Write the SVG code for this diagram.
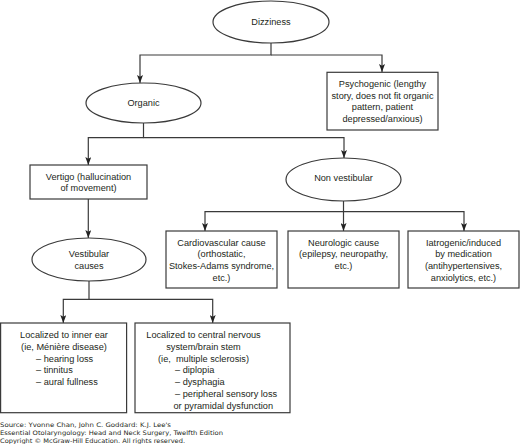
<svg xmlns="http://www.w3.org/2000/svg" width="520" height="444" viewBox="0 0 520 444">
<style>
.t{font-family:"Liberation Sans",Arial,sans-serif;font-size:9.2px;fill:#231f20;text-anchor:middle}
.l{text-anchor:start}
.s{font-family:"DejaVu Sans",Verdana,sans-serif;font-size:6.2px;fill:#231f20}
.n{fill:#fff;stroke:#3a3a3a;stroke-width:1.2}
.c{fill:none;stroke:#3a3a3a;stroke-width:1.2}
</style>
<defs>
<marker id="arr" viewBox="0 0 8 6" refX="8" refY="3" markerWidth="8" markerHeight="6" orient="auto" markerUnits="userSpaceOnUse">
<path d="M0,0 L8,3 L0,6 L1.8,3 z" fill="#222"/>
</marker>
</defs>
<rect width="520" height="444" fill="#fff"/>
<g id="connectors">
<path class="c" d="M271,43 V55 H140 V83" marker-end="url(#arr)"/>
<path class="c" d="M271,55 H382 V72" marker-end="url(#arr)"/>
<path class="c" d="M143.5,123 V137.7 H88.3 V165" marker-end="url(#arr)"/>
<path class="c" d="M143.5,137.7 H344 V158" marker-end="url(#arr)"/>
<path class="c" d="M88.3,199 V238" marker-end="url(#arr)"/>
<path class="c" d="M343.5,201 V211.7 H205 V231" marker-end="url(#arr)"/>
<path class="c" d="M343.5,211.7 V231" marker-end="url(#arr)"/>
<path class="c" d="M343.5,211.7 H464 V231" marker-end="url(#arr)"/>
<path class="c" d="M89,281 V299.3 H63.3 V323" marker-end="url(#arr)"/>
<path class="c" d="M89,299.3 H212.7 V323" marker-end="url(#arr)"/>
</g>
<g id="dizziness">
<ellipse class="n" cx="271" cy="22" rx="58" ry="21"/>
<text class="t" x="271" y="25.3">Dizziness</text>
</g>
<g id="organic">
<ellipse class="n" cx="143.5" cy="103" rx="57.5" ry="20"/>
<text class="t" x="143.5" y="105.6">Organic</text>
</g>
<g id="psychogenic">
<rect class="n" x="327" y="72.3" width="111" height="57.7"/>
<text class="t" x="382.5" y="86.8">Psychogenic (lengthy</text>
<text class="t" x="382.5" y="98.5">story, does not fit organic</text>
<text class="t" x="382.5" y="110.2">pattern, patient</text>
<text class="t" x="382.5" y="121.9">depressed/anxious)</text>
</g>
<g id="vertigo">
<rect class="n" x="30" y="165" width="117" height="34"/>
<text class="t" x="88.5" y="179.5">Vertigo (hallucination</text>
<text class="t" x="88.5" y="191.2">of movement)</text>
</g>
<g id="nonvestibular">
<ellipse class="n" cx="343.5" cy="179.5" rx="57.5" ry="21.5"/>
<text class="t" x="343.5" y="181">Non vestibular</text>
</g>
<g id="vestibular">
<ellipse class="n" cx="89" cy="259.5" rx="57" ry="21.5"/>
<text class="t" x="89" y="257.3">Vestibular</text>
<text class="t" x="89" y="269">causes</text>
</g>
<g id="cardiovascular">
<rect class="n" x="166" y="231" width="111" height="57"/>
<text class="t" x="221.5" y="245.6">Cardiovascular cause</text>
<text class="t" x="221.5" y="257.3">(orthostatic,</text>
<text class="t" x="221.5" y="268.9">Stokes-Adams syndrome,</text>
<text class="t" x="221.5" y="280.6">etc.)</text>
</g>
<g id="neurologic">
<rect class="n" x="288" y="231" width="111" height="57"/>
<text class="t" x="343.5" y="245.6">Neurologic cause</text>
<text class="t" x="343.5" y="257.3">(epilepsy, neuropathy,</text>
<text class="t" x="343.5" y="268.9">etc.)</text>
</g>
<g id="iatrogenic">
<rect class="n" x="408" y="231" width="111" height="57"/>
<text class="t" x="463.5" y="245.6">Iatrogenic/induced</text>
<text class="t" x="463.5" y="257.3">by medication</text>
<text class="t" x="463.5" y="268.9">(antihypertensives,</text>
<text class="t" x="463.5" y="280.6">anxiolytics, etc.)</text>
</g>
<g id="innerear">
<rect class="n" x="0.6" y="323" width="126" height="89.7"/>
<text class="t" x="64" y="338.3">Localized to inner ear</text>
<text class="t" x="64" y="350">(ie, Ménière disease)</text>
<text class="t l" x="36" y="361.7">– hearing loss</text>
<text class="t l" x="36" y="373.4">– tinnitus</text>
<text class="t l" x="36" y="385.1">– aural fullness</text>
</g>
<g id="cns">
<rect class="n" x="135" y="323" width="155" height="89.7"/>
<text class="t" x="203.5" y="338.3">Localized to central nervous</text>
<text class="t" x="203.5" y="350">system/brain stem</text>
<text class="t" x="203.5" y="361.7">(ie,&#160; multiple sclerosis)</text>
<text class="t l" x="175" y="373.4">– diplopia</text>
<text class="t l" x="175" y="385.1">– dysphagia</text>
<text class="t l" x="175" y="396.8">– peripheral sensory loss</text>
<text class="t l" x="173.5" y="408.5">or pyramidal dysfunction</text>
</g>
<g id="source">
<text class="s" x="0" y="426.5" textLength="171" lengthAdjust="spacingAndGlyphs">Source: Yvonne Chan, John C. Goddard: K.J. Lee's</text>
<text class="s" x="0" y="434.5" textLength="223" lengthAdjust="spacingAndGlyphs">Essential Otolaryngology: Head and Neck Surgery, Twelfth Edition</text>
<text class="s" x="0" y="442.5" textLength="185" lengthAdjust="spacingAndGlyphs">Copyright © McGraw-Hill Education. All rights reserved.</text>
</g>
</svg>
